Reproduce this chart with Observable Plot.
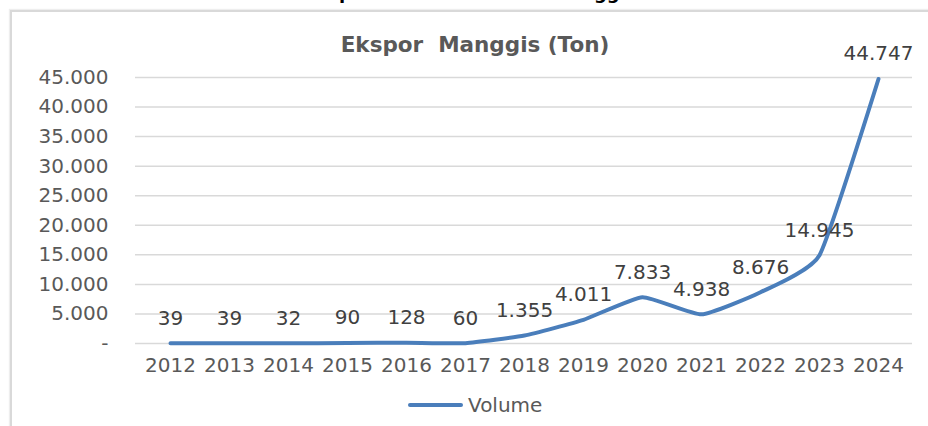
<!DOCTYPE html>
<html>
<head>
<meta charset="utf-8">
<script src="https://cdn.jsdelivr.net/npm/d3@7"></script>
<script src="https://cdn.jsdelivr.net/npm/@observablehq/plot@0.6"></script>
<style>
  html, body { margin: 0; padding: 0; background: #fff; width: 928px; height: 426px; overflow: hidden; }
  #wrap { position: relative; width: 928px; height: 426px; overflow: hidden; }
  #frame { position: absolute; left: 10px; top: 10px; width: 940px; height: 440px;
           border-left: 2px solid #d9d9d9; border-top: 2px solid #d9d9d9; box-shadow: -1px -1px 1px #eeeeee; }
  #cuttitle { position: absolute; left: 304px; top: -16px; font: bold 18px "DejaVu Sans"; line-height: 18px; color: #000; white-space: pre; }
  #title { position: absolute; left: 0; width: 950px; top: 34px; text-align: center; font: bold 21.5px "DejaVu Sans"; line-height: 21.5px; color: #595959; white-space: pre; }
  #chart { position: absolute; left: 0; top: 0; }
  #legend { position: absolute; left: 408px; top: 395px; height: 20px; display: flex; align-items: center; }
  #legend .sw { width: 55px; height: 4px; background: #4a7ebb; border-radius: 2px; margin-right: 5px; }
  #legend .lb { font: 20px "DejaVu Sans"; line-height: 20px; color: #595959; }
</style>
</head>
<body>
<div id="wrap">
  <div id="cuttitle">Ekspor Komoditas Buah Manggis</div>
  <div id="frame"></div>
  <div id="chart"></div>
  <div id="title">Ekspor  Manggis (Ton)</div>
  <div id="legend"><div class="sw"></div><div class="lb">Volume</div></div>
</div>
<script>
const years = ["2012","2013","2014","2015","2016","2017","2018","2019","2020","2021","2022","2023","2024"];
const volume = [39, 39, 32, 90, 128, 60, 1355, 4011, 7833, 4938, 8676, 14945, 44747];
const yTicks = [0, 5000, 10000, 15000, 20000, 25000, 30000, 35000, 40000, 45000];

const data = years.map((y, i) => ({year: y, value: volume[i]}));
const fmt = d => d === 0 ? "-" : d3.format(",")(d).replace(/,/g, ".");

const chart = Plot.plot({
  width: 928,
  height: 380,
  marginTop: 77,
  marginBottom: 37,
  marginLeft: 135,
  marginRight: 16,
  style: {fontFamily: "DejaVu Sans", fontSize: "20px", color: "#595959", background: "transparent"},
  x: {type: "point", domain: years, padding: 0.5, label: null},
  y: {domain: [0, 45000], label: null},
  marks: [
    Plot.ruleY(yTicks, {stroke: "#d9d9d9", strokeWidth: 1.5}),
    Plot.axisY({ticks: yTicks, tickSize: 0, tickPadding: 27, tickFormat: fmt, fill: "#595959", fontSize: 20, label: null}),
    Plot.axisX({tickSize: 0, tickPadding: 14, fill: "#595959", fontSize: 20, label: null}),
    Plot.line(data, {x: "year", y: "value", stroke: "#4a7ebb", strokeWidth: 4, curve: "cardinal", tension: 0.55}),
    Plot.text(data, {x: "year", y: "value", text: d => fmt(d.value), dy: -25, fill: "#404040", fontSize: 20})
  ]
});
document.getElementById("chart").appendChild(chart);
</script>
</body>
</html>
